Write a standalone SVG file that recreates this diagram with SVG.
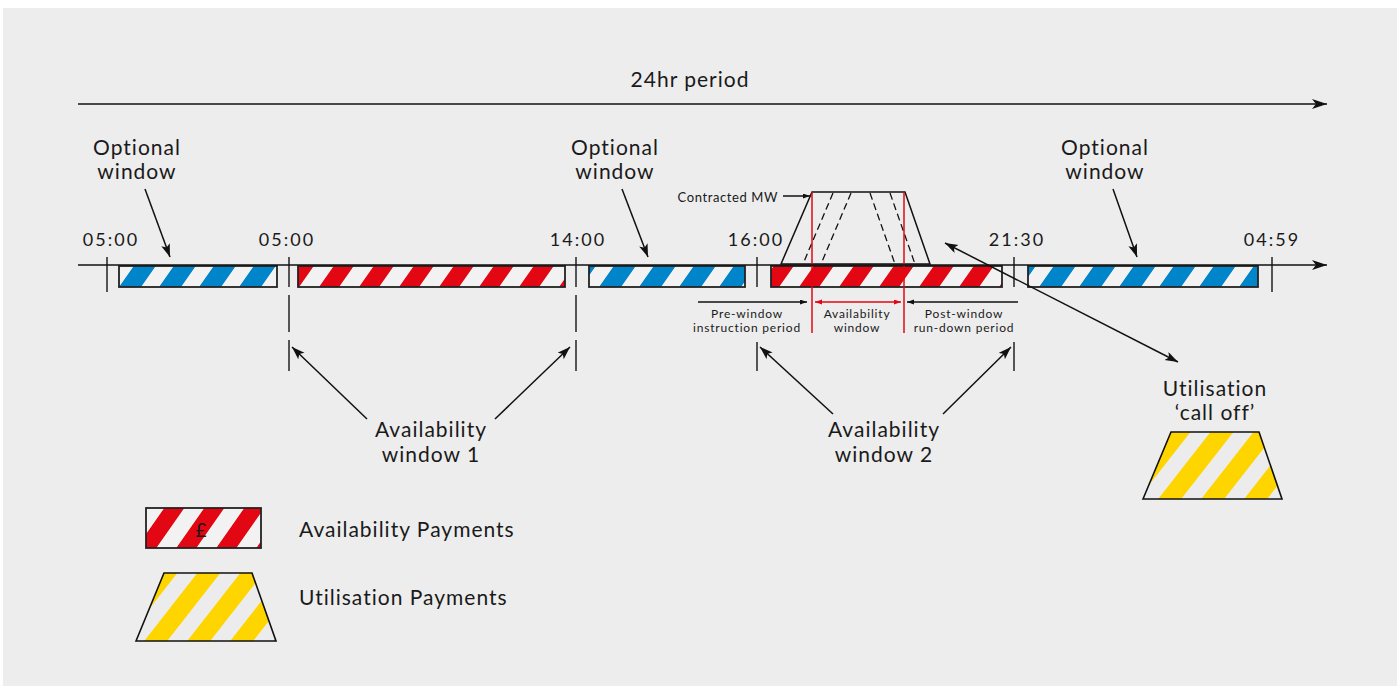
<svg xmlns="http://www.w3.org/2000/svg" width="1397" height="686" viewBox="0 0 1397 686">
<style>
  text { font-family: Lato, "Noto Sans", "Liberation Sans", sans-serif; fill: #1a1a1a; }
  .lbl { font-size: 21px; letter-spacing: 1px; text-anchor: middle; }
  .time { font-size: 18px; letter-spacing: 2px; text-anchor: middle; }
  .small { font-size: 12px; letter-spacing: 0.8px; text-anchor: middle; }
  .tick { stroke: #222; stroke-width: 1.5; fill: none; }
  .bar { stroke: #222; stroke-width: 1.8; }
  .ln { stroke: #111; stroke-width: 1.5; fill: none; }
  .red { stroke: #e30613; stroke-width: 1.5; fill: none; }
  .dash { stroke: #111; stroke-width: 1.3; stroke-dasharray: 7,4; fill: none; }
</style>
<defs>
  <pattern id="pBlue" patternUnits="userSpaceOnUse" width="40" height="40" patternTransform="skewX(-35)">
    <rect width="40" height="40" fill="#f2f2f2"/>
    <rect width="22" height="40" fill="#0085ca"/>
  </pattern>
  <pattern id="pRed" patternUnits="userSpaceOnUse" width="40" height="40" patternTransform="skewX(-35)">
    <rect width="40" height="40" fill="#f2f2f2"/>
    <rect width="20" height="40" fill="#e30613"/>
  </pattern>
  <pattern id="pYellow" patternUnits="userSpaceOnUse" width="43" height="43" patternTransform="skewX(-38)">
    <rect width="43" height="43" fill="#ececec"/>
    <rect width="23" height="43" fill="#ffd500"/>
  </pattern>
  <marker id="aBig" markerUnits="userSpaceOnUse" markerWidth="16" markerHeight="12" refX="15" refY="5" orient="auto">
    <path d="M0,0 L15,5 L0,10 L4,5 z" fill="#111"/>
  </marker>
  <marker id="aMed" markerUnits="userSpaceOnUse" markerWidth="14" markerHeight="10" refX="13" refY="4.5" orient="auto-start-reverse">
    <path d="M0,0 L13,4.5 L0,9 L3,4.5 z" fill="#111"/>
  </marker>
  <marker id="aSm" markerUnits="userSpaceOnUse" markerWidth="8" markerHeight="6" refX="7" refY="2.5" orient="auto">
    <path d="M0,0 L7,2.5 L0,5 z" fill="#111"/>
  </marker>
  <marker id="aRed" markerUnits="userSpaceOnUse" markerWidth="8" markerHeight="6" refX="7" refY="2.5" orient="auto-start-reverse">
    <path d="M0,0 L7,2.5 L0,5 z" fill="#e30613"/>
  </marker>
</defs>

<rect x="3" y="8" width="1394" height="678" fill="#ededed"/>

<g id="period">
  <text class="lbl" x="690" y="87">24hr period</text>
</g>

<g id="bars">
  <rect class="bar" x="119" y="266" width="158" height="21" fill="url(#pBlue)"/>
  <rect class="bar" x="298" y="266" width="267" height="21" fill="url(#pRed)"/>
  <rect class="bar" x="589" y="266" width="156" height="21" fill="url(#pBlue)"/>
  <rect class="bar" x="771" y="266" width="231" height="21" fill="url(#pRed)"/>
  <rect class="bar" x="1028" y="266" width="230" height="21" fill="url(#pBlue)"/>
</g>

<g id="ticks">
  <line class="tick" x1="107" y1="257" x2="107" y2="292"/>
  <line class="tick" x1="289" y1="257" x2="289" y2="287"/>
  <line class="tick" x1="289" y1="295" x2="289" y2="332"/>
  <line class="tick" x1="289" y1="340" x2="289" y2="371"/>
  <line class="tick" x1="576" y1="257" x2="576" y2="287"/>
  <line class="tick" x1="576" y1="295" x2="576" y2="332"/>
  <line class="tick" x1="576" y1="340" x2="576" y2="371"/>
  <line class="tick" x1="757" y1="257" x2="757" y2="287"/>
  <line class="tick" x1="757" y1="342" x2="757" y2="371"/>
  <line class="tick" x1="1014" y1="257" x2="1014" y2="287"/>
  <line class="tick" x1="1014" y1="342" x2="1014" y2="371"/>
  <line class="tick" x1="1272" y1="257" x2="1272" y2="292"/>
</g>

<g id="times">
  <text class="time" x="111" y="246">05:00</text>
  <text class="time" x="287" y="246">05:00</text>
  <text class="time" x="578" y="246">14:00</text>
  <text class="time" x="756" y="246">16:00</text>
  <text class="time" x="1017" y="246">21:30</text>
  <text class="time" x="1272" y="246">04:59</text>
</g>

<g id="contracted">
  <polygon class="ln" points="781,264 812,192 905,192 930,264"/>
  <line class="dash" x1="833" y1="193" x2="803" y2="264"/>
  <line class="dash" x1="851" y1="193" x2="821" y2="264"/>
  <line class="dash" x1="870" y1="193" x2="895" y2="264"/>
  <line class="dash" x1="890" y1="193" x2="915" y2="264"/>
  <line class="red" x1="812" y1="192" x2="812" y2="333"/>
  <line class="red" x1="904" y1="192" x2="904" y2="333"/>
  <text x="778" y="202" style="font-size:13px;letter-spacing:0.6px;text-anchor:end">Contracted MW</text>
</g>

<g id="optional-labels">
  <text class="lbl" x="137" y="155">Optional</text>
  <text class="lbl" x="137" y="179">window</text>
  <text class="lbl" x="615" y="155">Optional</text>
  <text class="lbl" x="615" y="179">window</text>
  <text class="lbl" x="1105" y="155">Optional</text>
  <text class="lbl" x="1105" y="179">window</text>
</g>

<g id="window-labels">
  <text class="small" x="747" y="317.5">Pre-window</text>
  <text class="small" x="747" y="332">instruction period</text>
  <text class="small" x="857" y="317.5">Availability</text>
  <text class="small" x="857" y="332">window</text>
  <text class="small" x="964" y="317.5">Post-window</text>
  <text class="small" x="964" y="332">run-down period</text>
</g>

<g id="availability-labels">
  <text class="lbl" x="431" y="437">Availability</text>
  <text class="lbl" x="431" y="462">window 1</text>
  <text class="lbl" x="884" y="437">Availability</text>
  <text class="lbl" x="884" y="462">window 2</text>
</g>

<g id="calloff">
  <text class="lbl" x="1215" y="396">Utilisation</text>
  <text class="lbl" x="1215" y="420">‘call off’</text>
  <polygon points="1143,499 1171,432 1259,432 1282,499" fill="url(#pYellow)" stroke="#111" stroke-width="1.6"/>
</g>

<g id="legend">
  <rect class="bar" x="146" y="508" width="115" height="40" fill="url(#pRed)"/>
  <text x="201" y="537" style="font-size:19px;text-anchor:middle">£</text>
  <text x="299" y="537" style="font-size:21px;letter-spacing:1px">Availability Payments</text>
  <polygon points="136,641 164,573 252,573 276,641" fill="url(#pYellow)" stroke="#111" stroke-width="1.6"/>
  <text x="299" y="605" style="font-size:21px;letter-spacing:1px">Utilisation Payments</text>
</g>

<g id="connectors">
  <line class="ln" x1="78" y1="104" x2="1327" y2="104" marker-end="url(#aBig)" stroke-width="2"/>
  <line class="ln" x1="78" y1="265" x2="1327" y2="265" marker-end="url(#aBig)"/>
  <line class="ln" x1="145" y1="189" x2="170" y2="257" marker-end="url(#aMed)"/>
  <line class="ln" x1="622" y1="189" x2="648" y2="257" marker-end="url(#aMed)"/>
  <line class="ln" x1="1113" y1="189" x2="1137" y2="257" marker-end="url(#aMed)"/>
  <line class="ln" x1="367" y1="419" x2="292" y2="347" marker-end="url(#aMed)"/>
  <line class="ln" x1="495" y1="419" x2="570" y2="347" marker-end="url(#aMed)"/>
  <line class="ln" x1="833" y1="414" x2="760" y2="347" marker-end="url(#aMed)"/>
  <line class="ln" x1="943" y1="414" x2="1011" y2="347" marker-end="url(#aMed)"/>
  <line class="ln" x1="945" y1="243" x2="1178" y2="362" marker-start="url(#aMed)" marker-end="url(#aMed)"/>
  <line class="ln" x1="783" y1="196" x2="810" y2="196" marker-end="url(#aSm)" stroke-width="1.2"/>
  <line class="ln" x1="698" y1="302" x2="807" y2="302" marker-end="url(#aSm)" stroke-width="1.2"/>
  <line class="ln" x1="1018" y1="302" x2="907" y2="302" marker-end="url(#aSm)" stroke-width="1.2"/>
  <line class="red" x1="815" y1="302" x2="901" y2="302" marker-start="url(#aRed)" marker-end="url(#aRed)" stroke-width="1.2"/>
</g>
</svg>
